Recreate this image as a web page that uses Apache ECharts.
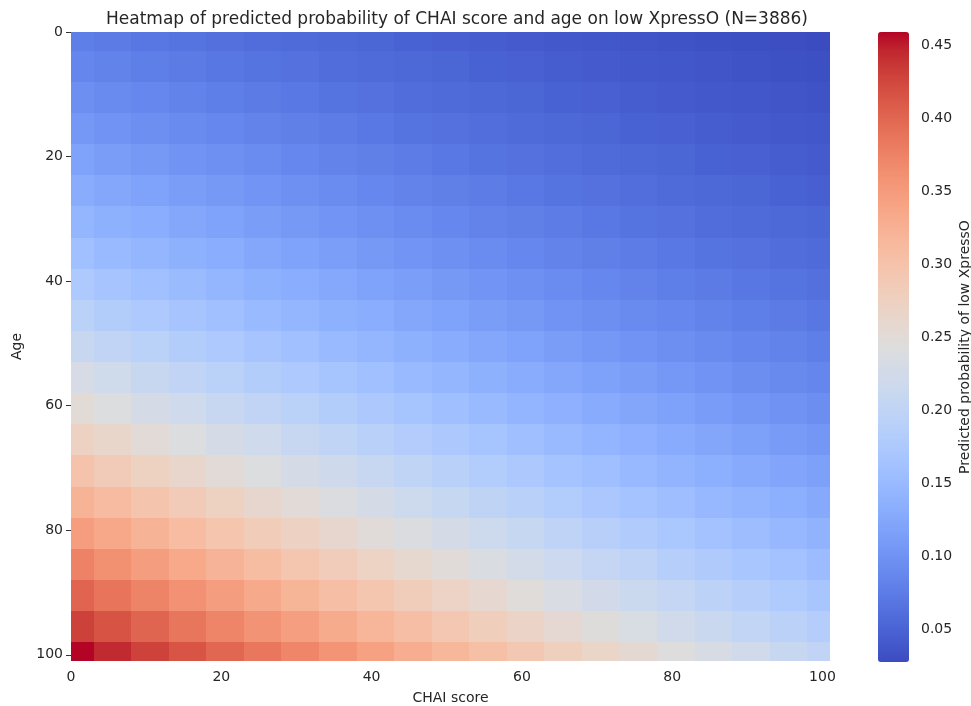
<!DOCTYPE html>
<html>
<head>
<meta charset="utf-8">
<script src="https://cdn.jsdelivr.net/npm/echarts@6/dist/echarts.min.js"></script>
<style>
  html, body { margin: 0; padding: 0; background: #fff; }
  #chart { width: 971px; height: 706px; }
</style>
</head>
<body>
<div id="chart"></div>
<script>
// ---- data (grid every 5 units) ----
const chaiScores = [0,5,10,15,20,25,30,35,40,45,50,55,60,65,70,75,80,85,90,95,100];
const ages       = [0,5,10,15,20,25,30,35,40,45,50,55,60,65,70,75,80,85,90,95,100];
// predicted probability, one row per age (top = age 0), one column per CHAI score
const probRows = [
  [0.078,0.074,0.070,0.067,0.063,0.060,0.057,0.054,0.052,0.049,0.046,0.044,0.042,0.040,0.038,0.036,0.034,0.032,0.031,0.029,0.027],
  [0.086,0.082,0.078,0.074,0.070,0.067,0.064,0.060,0.057,0.054,0.052,0.049,0.047,0.044,0.042,0.040,0.038,0.036,0.034,0.032,0.031],
  [0.096,0.091,0.087,0.082,0.078,0.074,0.071,0.067,0.064,0.060,0.057,0.055,0.052,0.049,0.047,0.044,0.042,0.040,0.038,0.036,0.034],
  [0.106,0.101,0.096,0.091,0.087,0.083,0.079,0.075,0.071,0.067,0.064,0.061,0.057,0.055,0.052,0.049,0.047,0.044,0.042,0.040,0.038],
  [0.118,0.112,0.107,0.101,0.097,0.092,0.087,0.083,0.079,0.075,0.071,0.067,0.064,0.061,0.057,0.055,0.052,0.049,0.047,0.044,0.042],
  [0.130,0.124,0.118,0.112,0.107,0.102,0.097,0.092,0.087,0.083,0.079,0.075,0.071,0.067,0.064,0.061,0.057,0.055,0.052,0.049,0.046],
  [0.144,0.137,0.131,0.124,0.118,0.112,0.107,0.102,0.097,0.092,0.087,0.083,0.079,0.075,0.071,0.067,0.064,0.060,0.057,0.054,0.052],
  [0.159,0.151,0.144,0.137,0.131,0.124,0.118,0.113,0.107,0.102,0.097,0.092,0.087,0.083,0.079,0.075,0.071,0.067,0.064,0.060,0.057],
  [0.175,0.167,0.159,0.152,0.144,0.137,0.131,0.125,0.118,0.113,0.107,0.102,0.097,0.092,0.087,0.083,0.078,0.074,0.070,0.067,0.063],
  [0.192,0.183,0.175,0.167,0.159,0.151,0.144,0.137,0.131,0.124,0.118,0.112,0.107,0.101,0.096,0.091,0.087,0.082,0.078,0.074,0.070],
  [0.211,0.201,0.192,0.183,0.175,0.167,0.159,0.151,0.144,0.137,0.130,0.124,0.118,0.112,0.106,0.101,0.096,0.091,0.086,0.082,0.078],
  [0.231,0.221,0.211,0.201,0.192,0.183,0.175,0.166,0.159,0.151,0.144,0.137,0.130,0.124,0.117,0.112,0.106,0.101,0.095,0.090,0.086],
  [0.252,0.241,0.230,0.220,0.210,0.201,0.192,0.183,0.174,0.166,0.158,0.151,0.143,0.136,0.129,0.123,0.117,0.111,0.105,0.100,0.095],
  [0.274,0.263,0.251,0.241,0.230,0.220,0.210,0.200,0.191,0.182,0.174,0.166,0.158,0.150,0.143,0.136,0.129,0.123,0.116,0.110,0.105],
  [0.298,0.285,0.273,0.262,0.251,0.240,0.229,0.219,0.209,0.200,0.190,0.181,0.173,0.165,0.157,0.149,0.142,0.135,0.128,0.122,0.116],
  [0.322,0.310,0.297,0.285,0.273,0.261,0.250,0.239,0.229,0.218,0.208,0.199,0.190,0.181,0.172,0.164,0.156,0.148,0.141,0.134,0.127],
  [0.348,0.335,0.322,0.309,0.296,0.284,0.272,0.261,0.249,0.238,0.228,0.218,0.208,0.198,0.189,0.180,0.171,0.163,0.155,0.147,0.140],
  [0.375,0.361,0.347,0.334,0.321,0.308,0.295,0.283,0.271,0.259,0.248,0.237,0.227,0.216,0.206,0.197,0.187,0.178,0.170,0.162,0.154],
  [0.402,0.388,0.374,0.360,0.346,0.333,0.319,0.306,0.294,0.282,0.270,0.258,0.247,0.236,0.225,0.215,0.205,0.195,0.186,0.177,0.168],
  [0.430,0.416,0.401,0.386,0.372,0.358,0.345,0.331,0.318,0.305,0.292,0.280,0.268,0.256,0.245,0.234,0.223,0.213,0.203,0.193,0.184],
  [0.459,0.444,0.429,0.414,0.399,0.385,0.371,0.357,0.343,0.329,0.316,0.303,0.291,0.278,0.266,0.255,0.243,0.232,0.222,0.211,0.201]
];
const axisTickValues = [0, 20, 40, 60, 80, 100];
const colorbarRange = [0.0274, 0.4589];
const colorbarTicks = [0.05, 0.10, 0.15, 0.20, 0.25, 0.30, 0.35, 0.40, 0.45];

// ---- styling ----
const coolwarm = ['#3b4cc0','#445acc','#4d68d7','#5775e1','#6282ea','#6c8ef1','#779af7','#82a5fb',
  '#8db0fe','#98b9ff','#a3c2ff','#aec9fd','#b8d0f9','#c2d5f4','#ccd9ee','#d5dbe6','#dddddd',
  '#e5d8d1','#ecd3c5','#f1ccb9','#f5c4ad','#f7bba0','#f7b194','#f7a687','#f49a7b','#f18d6f',
  '#ec7f63','#e57058','#de604d','#d55042','#cb3e38','#c0282f','#b40426'];
const FONT = "'DejaVu Sans', sans-serif";
const TXT = '#262626';

const data = [];
ages.forEach(function (age, r) {
  chaiScores.forEach(function (chai, c) {
    data.push([chai, age, probRows[r][c]]);
  });
});
const stepX = chaiScores[1] - chaiScores[0];
const stepY = ages[1] - ages[0];

const chart = echarts.init(document.getElementById('chart'), null, { renderer: 'canvas' });
chart.setOption({
  animation: false,
  backgroundColor: '#fff',
  title: {
    text: 'Heatmap of predicted probability of CHAI score and age on low XpressO (N=3886)',
    left: 452, top: 6, textAlign: 'center',
    textStyle: { fontFamily: FONT, fontSize: 17, fontWeight: 'normal', color: TXT }
  },
  grid: [
    { left: 71, top: 32, width: 759, height: 629, outerBoundsMode: 'none', containLabel: false },
    { left: 878, top: 32, width: 31, height: 630, outerBoundsMode: 'none', containLabel: false }
  ],
  xAxis: [
    {
      type: 'value', gridIndex: 0, min: 0, max: 101,
      name: 'CHAI score', nameLocation: 'middle', nameGap: 30,
      nameTextStyle: { fontFamily: FONT, fontSize: 14, color: TXT },
      axisLine: { show: false },
      axisTick: { show: true, length: 5, customValues: axisTickValues, lineStyle: { color: '#333' } },
      axisLabel: { customValues: axisTickValues, margin: 9, fontFamily: FONT, fontSize: 14, color: TXT },
      splitLine: { show: false }
    },
    { type: 'value', gridIndex: 1, show: false, min: 0, max: 1 }
  ],
  yAxis: [
    {
      type: 'value', gridIndex: 0, min: 0, max: 101, inverse: true,
      name: 'Age', nameLocation: 'middle', nameGap: 47, nameRotate: 90,
      nameTextStyle: { fontFamily: FONT, fontSize: 14, color: TXT },
      axisLine: { show: false },
      axisTick: { show: true, length: 5, customValues: axisTickValues, lineStyle: { color: '#333' } },
      axisLabel: { customValues: axisTickValues, margin: 8, fontFamily: FONT, fontSize: 14, color: TXT },
      splitLine: { show: false }
    },
    {
      type: 'value', gridIndex: 1, position: 'right', min: colorbarRange[0], max: colorbarRange[1],
      name: 'Predicted probability of low XpressO', nameLocation: 'middle', nameGap: 49, nameRotate: 90,
      nameTextStyle: { fontFamily: FONT, fontSize: 14, color: TXT },
      axisLine: { show: false },
      axisTick: { show: true, length: 4, customValues: colorbarTicks, lineStyle: { color: '#333' } },
      axisLabel: {
        customValues: colorbarTicks, margin: 12, fontFamily: FONT, fontSize: 14, color: TXT,
        formatter: function (v) { return v.toFixed(2); }
      },
      splitLine: { show: false }
    }
  ],
  visualMap: {
    type: 'continuous',
    seriesIndex: 0, dimension: 2,
    min: colorbarRange[0], max: colorbarRange[1],
    calculable: false, hoverLink: false,
    orient: 'vertical', left: 878, top: 32, padding: 0,
    itemWidth: 31, itemHeight: 630,
    inRange: { color: coolwarm }
  },
  series: [
    {
      type: 'custom',
      xAxisIndex: 0, yAxisIndex: 0,
      data: data,
      encode: { x: 0, y: 1 },
      renderItem: function (params, api) {
        const x = api.value(0), y = api.value(1);
        const x0 = Math.max(0, x + 0.5 - stepX / 2), x1 = Math.min(101, x + 0.5 + stepX / 2);
        const y0 = Math.max(0, y + 0.5 - stepY / 2), y1 = Math.min(101, y + 0.5 + stepY / 2);
        const a = api.coord([x0, y0]);
        const b = api.coord([x1, y1]);
        const left = Math.round(Math.min(a[0], b[0]));
        const right = Math.round(Math.max(a[0], b[0]));
        const top = Math.round(Math.min(a[1], b[1]));
        const bottom = Math.round(Math.max(a[1], b[1]));
        return {
          type: 'rect',
          shape: { x: left, y: top, width: right - left, height: bottom - top },
          style: { fill: api.visual('color'), stroke: null }
        };
      }
    },
    { type: 'line', xAxisIndex: 1, yAxisIndex: 1, data: [] }
  ]
});
</script>
</body>
</html>
